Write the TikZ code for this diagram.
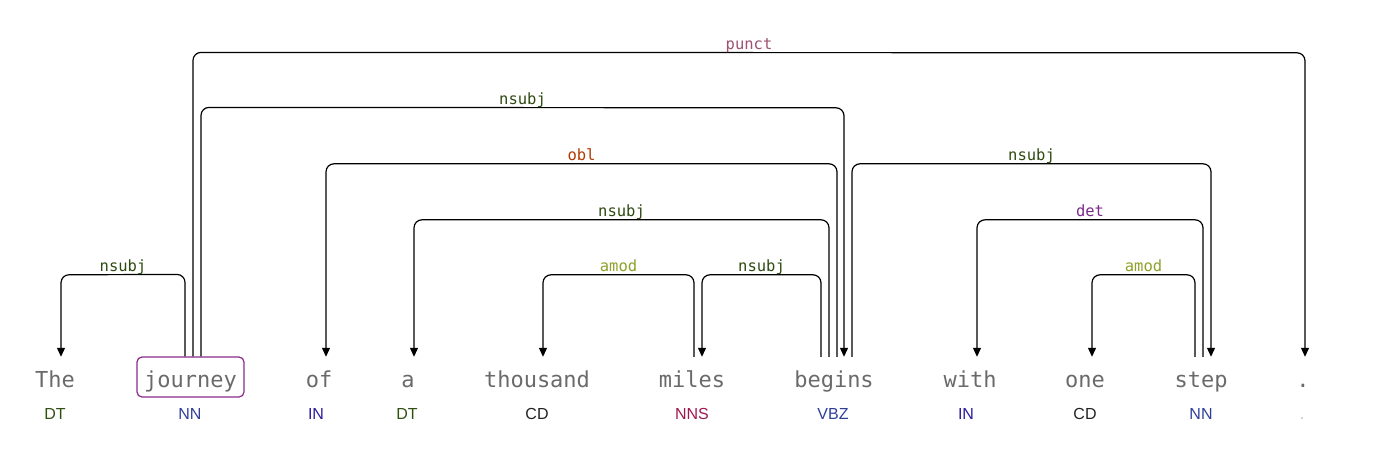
\documentclass[tikz,border=0pt]{standalone}
\usepackage{fontspec}
\setmonofont{DejaVu Sans Mono}
\setsansfont{Liberation Sans}
\usetikzlibrary{arrows.meta,calc}
\definecolor{wordgray}{HTML}{6A6A6A}
\definecolor{boxpurple}{HTML}{8B2A8B}
\definecolor{cnsubj}{HTML}{2E4A10}
\definecolor{cpunct}{HTML}{A05070}
\definecolor{cobl}{HTML}{B03A00}
\definecolor{camod}{HTML}{8FA02A}
\definecolor{cdet}{HTML}{7A2A8A}
\definecolor{tDT}{HTML}{2F5010}
\definecolor{tNN}{HTML}{2E3F9A}
\definecolor{tIN}{HTML}{2A1AA0}
\definecolor{tCD}{HTML}{222222}
\definecolor{tNNS}{HTML}{A01850}
\definecolor{tVBZ}{HTML}{2E3F9A}
\definecolor{tPUNCT}{HTML}{BBBBBB}
\tikzset{
  word/.style={font=\ttfamily\fontsize{22}{26}\selectfont, text=wordgray, inner sep=0pt,
    minimum height=40pt, text height=22pt, text depth=2pt, anchor=center},
  tag/.style={font=\sffamily\fontsize{16}{19}\selectfont, anchor=base, inner sep=0pt},
  dep/.style={draw=black, line width=1.2pt, rounded corners=8pt, -{Triangle[width=8pt,length=9pt]}},
  lab/.style={font=\ttfamily\fontsize{15.5}{18}\selectfont, anchor=base, inner sep=0pt, yshift=3pt, midway}
}
\newcommand{\deparc}[7]{%
  \draw[dep] ($(#1.north)+(#2,0)$) -- ($(#1.north)+(#2,#5-357)$)
    -- node[lab,text=#7]{#6} ($(#3.north)+(#4,#5-357)$) -- ($(#3.north)+(#4,0)$);
}
\begin{document}
\begin{tikzpicture}[x=1pt,y=-1pt]
\useasboundingbox (0,0) rectangle (1400,476);
% words
\node[word] (the) at (55,377) {The};
\node[word, draw=boxpurple, line width=1.2pt, rounded corners=5pt, minimum width=107pt] (journey) at (190.5,377) {journey};
\node[word] (of) at (319,377) {of};
\node[word] (a) at (408,377) {a};
\node[word] (thousand) at (537,377) {thousand};
\node[word] (miles) at (692,377) {miles};
\node[word] (begins) at (834,377) {begins};
\node[word] (with) at (970,377) {with};
\node[word] (one) at (1085,377) {one};
\node[word] (step) at (1201,377) {step};
\node[word] (dot) at (1303,377) {.};
% tags
\node[tag, text=tDT] (tthe) at (55,419) {DT};
\node[tag, text=tNN] (tjourney) at (190,419) {NN};
\node[tag, text=tIN] (tof) at (316,419) {IN};
\node[tag, text=tDT] (ta) at (407,419) {DT};
\node[tag, text=tCD] (tthousand) at (537,419) {CD};
\node[tag, text=tNNS] (tmiles) at (692,419) {NNS};
\node[tag, text=tVBZ] (tbegins) at (833,419) {VBZ};
\node[tag, text=tIN] (twith) at (966,419) {IN};
\node[tag, text=tCD] (tone) at (1085,419) {CD};
\node[tag, text=tNN] (tstep) at (1201,419) {NN};
\node[tag, text=tPUNCT] (tdot) at (1302,419) {.};
% arcs
\deparc{journey}{-5.5}{the}{6}{275}{nsubj}{cnsubj}
\deparc{journey}{2.5}{dot}{2}{53}{punct}{cpunct}
\deparc{journey}{10.5}{begins}{10}{108}{nsubj}{cnsubj}
\deparc{begins}{3}{of}{7}{164}{obl}{cobl}
\deparc{begins}{-5}{a}{6}{220}{nsubj}{cnsubj}
\deparc{miles}{2}{thousand}{6}{275}{amod}{camod}
\deparc{begins}{-13}{miles}{10}{275}{nsubj}{cnsubj}
\deparc{begins}{18}{step}{10}{164}{nsubj}{cnsubj}
\deparc{step}{2}{with}{7}{220}{det}{cdet}
\deparc{step}{-6}{one}{7}{275}{amod}{camod}
\end{tikzpicture}
\end{document}
